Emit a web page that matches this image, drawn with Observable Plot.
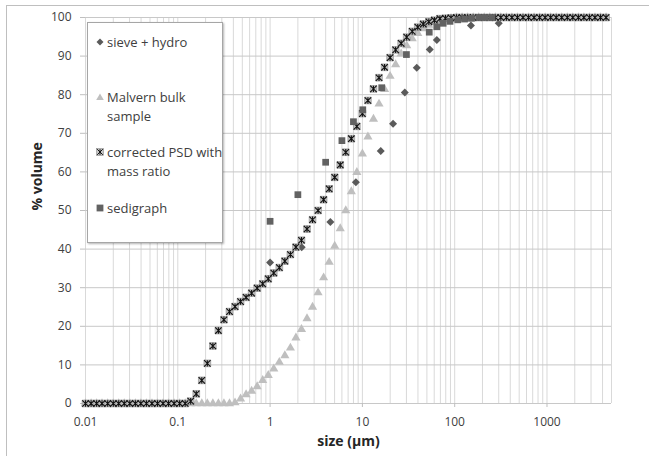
<!DOCTYPE html>
<html><head><meta charset="utf-8">
<script src="https://cdn.jsdelivr.net/npm/d3@7"></script>
<script src="https://cdn.jsdelivr.net/npm/@observablehq/plot@0.6"></script>
<style>
html,body{margin:0;padding:0;background:#fff;overflow:hidden;}
#wrap{position:relative;width:649px;height:456px;font-family:"Open Sans",sans-serif;overflow:hidden;}
#frame{position:absolute;left:6px;top:5px;width:700px;height:470px;border:1px solid #bfbfbf;box-sizing:border-box;}
#chart{position:absolute;left:0;top:0;}
#legend{position:absolute;left:87px;top:22px;width:136px;height:221px;background:#fff;border:1px solid #a6a6a6;box-shadow:1px 1px 2px rgba(0,0,0,0.3);box-sizing:border-box;font-size:13px;color:#404040;}
.li{position:absolute;left:19px;line-height:19px;white-space:nowrap;}
.mk{position:absolute;left:6px;width:12px;height:12px;}
</style>
</head><body>
<div id="wrap"><div id="frame"></div><div id="chart"></div><div id="legend"></div></div>
<script>
// ---------- data ----------
const sizes = [0.01,0.0115,0.0132,0.0151,0.0174,0.02,0.0229,0.0263,0.0302,0.0347,0.0398,0.0457,0.0525,0.0603,0.0692,0.0794,0.0912,0.1047,0.1202,0.138,0.1585,0.182,0.2089,0.2399,0.2754,0.3162,0.3631,0.4169,0.4786,0.5495,0.631,0.7244,0.8318,0.955,1.096,1.259,1.445,1.66,1.905,2.188,2.512,2.884,3.311,3.802,4.365,5.012,5.754,6.607,7.586,8.71,10,11.48,13.18,15.14,17.38,19.95,22.91,26.3,30.2,34.67,39.81,45.71,52.48,60.26,69.18,79.43,91.2,104.7,120.2,138,158.5,182,208.9,239.9,275.4,316.2,363.1,416.9,478.6,549.5,631,724.4,831.8,955,1096,1259,1445,1660,1905,2188,2512,2884,3311,3802,4365];
const correctedPSD = [0,0,0,0,0,0,0,0,0,0,0,0,0,0,0,0,0,0,0,0.6,2.5,6.0,10.4,14.9,18.9,21.7,23.8,25.1,26.4,27.5,28.6,29.9,31.0,32.3,33.8,35.2,36.9,38.6,40.5,42.3,45.2,47.6,50.0,52.8,55.6,58.6,61.8,65.1,68.6,71.8,75.1,78.5,81.5,84.4,87.1,89.6,91.6,93.3,94.9,96.4,97.5,98.3,98.9,99.3,99.7,99.8,99.9,100,100,100,100,100,100,100,100,100,100,100,100,100,100,100,100,100,100,100,100,100,100,100,100,100,100,100,100];
const malvern = [0,0,0,0,0,0,0,0,0,0,0,0,0,0,0,0,0,0,0,0,0,0,0,0,0,0,0,0.2,1.2,2.3,3.2,4.4,6.0,7.3,9.0,10.7,12.4,14.4,17.0,19.2,22.0,25.0,28.7,32.6,36.6,40.8,45.3,50.0,54.9,59.9,64.7,69.1,73.7,77.6,81.4,84.8,87.8,90.6,92.7,94.5,95.9,97.1,98.0,98.7,99.2,99.6,99.8,100,100,100,100,100,100,100,100,100,100,100,100,100,100,100,100,100,100,100,100,100,100,100,100,100,100,100,100];
const sieveSizes = [1,2.2,4.5,8.5,15.8,21.5,28.8,38.8,53.7,64,150,300];
const sieveValues = [36.5,40.5,47.0,57.3,65.4,72.5,80.6,87.0,91.7,94.2,97.9,98.5];
const sediSizes = [1,2,4,6,8,10.1,16.2,30,53,64,75,89,108,128,152,183,215,254];
const sediValues = [47.2,54.1,62.5,68.1,73.0,76.1,81.8,90.4,96.2,97.6,98.5,99.0,99.4,99.6,99.8,100,100,100];
const xTicks = [0.01,0.1,1,10,100,1000];
const xTickLabels = ["0.01","0.1","1","10","100","1000"];
const yTicks = [0,10,20,30,40,50,60,70,80,90,100];
const seriesNames = ["sieve + hydro","Malvern bulk sample","corrected PSD with mass ratio","sedigraph"];

// ---------- tables ----------
const corr = sizes.map((s,i)=>({x:s,y:correctedPSD[i]}));
const malv = sizes.map((s,i)=>({x:s,y:malvern[i]}));
const sieve = sieveSizes.map((s,i)=>({x:s,y:sieveValues[i]}));
const sedi = sediSizes.map((s,i)=>({x:s,y:sediValues[i]}));
const gridX = [];
for (let e=-2;e<=3;e++) for (let m=1;m<=9;m++){const v=m*Math.pow(10,e); if(v<=5000) gridX.push(+v.toPrecision(3));}
const xLabel = d => xTickLabels[Math.round(Math.log10(d))+2];

const asterisk = {draw(ctx,size){const a=Math.sqrt(size/Math.PI);
  ctx.moveTo(-a,-a);ctx.lineTo(a,a);ctx.moveTo(-a,a);ctx.lineTo(a,-a);ctx.moveTo(0,-a);ctx.lineTo(0,a);}};

const dark="#5a5a5a", light="#bfbfbf";
const chart = Plot.plot({
  width:649,height:456,
  marginLeft:85,marginRight:38,marginTop:17,marginBottom:53,
  style:{fontFamily:"Open Sans, sans-serif",fontSize:"12px",color:"#404040",background:"transparent"},
  x:{type:"log",domain:[0.01,5000]},
  y:{domain:[0,100]},
  marks:[
    Plot.ruleX(gridX,{stroke:"#d9d9d9",strokeWidth:1}),
    Plot.ruleY(yTicks,{stroke:"#c8c8c8",strokeWidth:1}),
    Plot.axisX({ticks:xTicks,tickSize:4,stroke:"#bfbfbf",tickFormat:()=>"",label:null}),
    Plot.axisX({ticks:xTicks,tickSize:0,tickPadding:14,tickFormat:xLabel,fill:"#404040",label:null,fontSize:12}),
    Plot.axisY({ticks:yTicks,tickSize:5,stroke:"#bfbfbf",tickFormat:()=>"",label:null}),
    Plot.axisY({ticks:yTicks,tickSize:0,tickPadding:14,fill:"#404040",label:null,fontSize:12}),
    Plot.text(["size (µm)"],{frameAnchor:"bottom",dy:42,fontWeight:"bold",fontSize:14,fill:"#262626"}),
    Plot.text(["% volume"],{frameAnchor:"left",dx:-48,rotate:-90,fontWeight:"bold",fontSize:14,fill:"#262626"}),
    Plot.dot(sieve,{x:"x",y:"y",symbol:"diamond2",r:3.6,fill:dark}),
    Plot.dot(malv,{x:"x",y:"y",symbol:"triangle",r:3.4,fill:light}),
    Plot.dot(corr,{x:"x",y:"y",symbol:"square",r:3.8,fill:"#c4c4c4",stroke:"#8a8a8a",strokeWidth:0.6}),
    Plot.dot(corr,{x:"x",y:"y",symbol:asterisk,r:3.2,stroke:"#111",fill:"none",strokeWidth:1.1}),
    Plot.dot(sedi,{x:"x",y:"y",symbol:"square",r:3.8,fill:"#626262"})
  ]
});
document.getElementById("chart").appendChild(chart);

// ---------- legend ----------
const lg = document.getElementById("legend");
const icons = [
  `<svg class="mk" viewBox="-6 -6 12 12"><path d="M0,-3.5L3.5,0L0,3.5L-3.5,0Z" fill="${dark}"/></svg>`,
  `<svg class="mk" viewBox="-6 -6 12 12"><path d="M0,-3.5L3.8,3L-3.8,3Z" fill="${light}"/></svg>`,
  `<svg class="mk" viewBox="-6 -6 12 12"><rect x="-3.4" y="-3.4" width="6.8" height="6.8" fill="#c4c4c4" stroke="#8a8a8a" stroke-width="0.6"/><path d="M-2.8,-2.8L2.8,2.8M-2.8,2.8L2.8,-2.8M0,-2.8L0,2.8" stroke="#111" stroke-width="1"/></svg>`,
  `<svg class="mk" viewBox="-6 -6 12 12"><rect x="-3.4" y="-3.4" width="6.8" height="6.8" fill="#626262"/></svg>`
];
const lines = [["sieve + hydro"],["Malvern bulk","sample"],["corrected PSD with","mass ratio"],["sedigraph"]];
const tops = [19,74,129,185];
lines.forEach((ls,i)=>{
  const mk = document.createElement("div");
  mk.innerHTML = icons[i];
  const svg = mk.firstChild; svg.style.top=(tops[i]-6)+"px"; lg.appendChild(svg);
  ls.forEach((t,j)=>{
    const d=document.createElement("div"); d.className="li";
    d.style.top=(tops[i]-9.5+j*19)+"px"; d.textContent=t; lg.appendChild(d);
  });
});
</script>
</body></html>
